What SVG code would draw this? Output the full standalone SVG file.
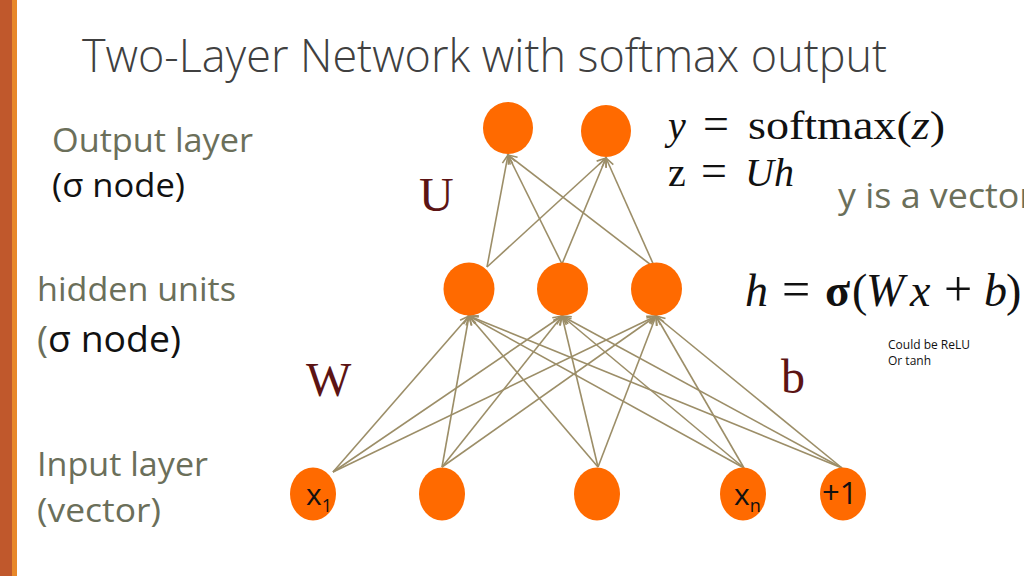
<svg xmlns="http://www.w3.org/2000/svg" width="1024" height="576" viewBox="0 0 1024 576">
<style>
.node{fill:#FF6A00}
.edge{stroke:#9C8E68;stroke-width:1.6;fill:none}
.lbl{font-family:"Open Sans","Liberation Sans",sans-serif;fill:#6B6F5A}
.blk{font-family:"Open Sans","Liberation Sans",sans-serif;fill:#111}
.math{font-family:"Liberation Serif","DejaVu Serif",serif;fill:#111}
.mar{font-family:"Liberation Serif","DejaVu Serif",serif;fill:#5C1414}
</style>
<defs>
<marker id="ah" markerWidth="12" markerHeight="12" refX="10" refY="6" orient="auto" markerUnits="userSpaceOnUse">
<path d="M1,2 L10,6 L1,10" fill="none" stroke="#9C8E68" stroke-width="1.6"/>
</marker>
</defs>
<rect x="0" y="0" width="1024" height="576" fill="#fff"/>
<rect x="0" y="0" width="12" height="576" fill="#C0582C"/>
<rect x="12" y="0" width="5" height="576" fill="#E8882A"/>

<text id="title" x="82" y="72" font-family="Open Sans, Liberation Sans, sans-serif" font-weight="300" font-size="46" fill="#404040" textLength="805" lengthAdjust="spacingAndGlyphs">Two-Layer Network with softmax output</text>

<g id="labels">
<text class="lbl" x="52" y="152" font-size="33" textLength="201" lengthAdjust="spacingAndGlyphs">Output layer</text>
<text class="blk" x="52" y="197" font-size="33" textLength="133" lengthAdjust="spacingAndGlyphs">(σ node)</text>
<text class="lbl" x="37" y="301" font-size="33" textLength="199" lengthAdjust="spacingAndGlyphs">hidden units</text>
<text class="blk" x="37" y="352" font-size="36" textLength="144" lengthAdjust="spacingAndGlyphs"><tspan fill="#6B6F5A">(</tspan>σ node)</text>
<text class="lbl" x="37" y="476" font-size="33" textLength="171" lengthAdjust="spacingAndGlyphs">Input layer</text>
<text class="lbl" x="37" y="522" font-size="33" textLength="124" lengthAdjust="spacingAndGlyphs">(vector)</text>
<text class="mar" x="419" y="211" font-size="48">U</text>
<text class="mar" x="306" y="396" font-size="48">W</text>
<text class="mar" x="781" y="393" font-size="48">b</text>
</g>

<g id="equations">
<text class="math" y="139" font-size="40"><tspan x="668" font-style="italic">y</tspan><tspan x="703" font-size="46">=</tspan></text>
<text class="math" x="748" y="139" font-size="40" textLength="197" lengthAdjust="spacingAndGlyphs">softmax(<tspan font-style="italic">z</tspan>)</text>
<text class="math" y="186" font-size="40"><tspan x="668">z</tspan><tspan x="701" font-size="46">=</tspan><tspan x="745" font-style="italic">Uh</tspan></text>
<text class="lbl" x="838" y="208" font-size="34" textLength="196" lengthAdjust="spacingAndGlyphs">y is a vector</text>
<text class="math" y="306" font-size="46"><tspan x="745" font-style="italic">h</tspan><tspan x="782" font-size="50">=</tspan><tspan x="825" font-weight="bold">σ</tspan><tspan x="852">(</tspan><tspan x="866" font-style="italic">W</tspan><tspan x="910" font-style="italic">x</tspan><tspan x="944" font-size="50">+</tspan><tspan x="984" font-style="italic">b</tspan><tspan x="1006">)</tspan></text>
<text class="blk" x="888" y="349" font-size="12" fill="#222">Could be ReLU</text>
<text class="blk" x="888" y="365" font-size="12" fill="#222">Or tanh</text>
</g>

<g id="connectors">
<line class="edge" x1="333" y1="472" x2="469" y2="316" marker-end="url(#ah)"/>
<line class="edge" x1="333" y1="472" x2="562" y2="316" marker-end="url(#ah)"/>
<line class="edge" x1="333" y1="472" x2="656" y2="316" marker-end="url(#ah)"/>
<line class="edge" x1="442" y1="467" x2="469" y2="316" marker-end="url(#ah)"/>
<line class="edge" x1="442" y1="467" x2="562" y2="316" marker-end="url(#ah)"/>
<line class="edge" x1="442" y1="467" x2="656" y2="316" marker-end="url(#ah)"/>
<line class="edge" x1="598" y1="467" x2="469" y2="316" marker-end="url(#ah)"/>
<line class="edge" x1="598" y1="467" x2="562" y2="316" marker-end="url(#ah)"/>
<line class="edge" x1="598" y1="467" x2="656" y2="316" marker-end="url(#ah)"/>
<line class="edge" x1="744" y1="468" x2="469" y2="316" marker-end="url(#ah)"/>
<line class="edge" x1="744" y1="468" x2="562" y2="316" marker-end="url(#ah)"/>
<line class="edge" x1="744" y1="468" x2="656" y2="316" marker-end="url(#ah)"/>
<line class="edge" x1="842" y1="468" x2="469" y2="316" marker-end="url(#ah)"/>
<line class="edge" x1="842" y1="468" x2="562" y2="316" marker-end="url(#ah)"/>
<line class="edge" x1="842" y1="468" x2="656" y2="316" marker-end="url(#ah)"/>
<line class="edge" x1="487" y1="267" x2="508" y2="155" marker-end="url(#ah)"/>
<line class="edge" x1="487" y1="267" x2="606" y2="158" marker-end="url(#ah)"/>
<line class="edge" x1="562" y1="264" x2="508" y2="155" marker-end="url(#ah)"/>
<line class="edge" x1="562" y1="264" x2="606" y2="158" marker-end="url(#ah)"/>
<line class="edge" x1="655" y1="268" x2="508" y2="155" marker-end="url(#ah)"/>
<line class="edge" x1="655" y1="268" x2="606" y2="158" marker-end="url(#ah)"/>
</g>

<g id="out1"><ellipse class="node" cx="508" cy="128" rx="25" ry="26"/></g>
<g id="out2"><ellipse class="node" cx="606" cy="131" rx="25" ry="26"/></g>
<g id="hid1"><ellipse class="node" cx="469" cy="289" rx="25.5" ry="26.5"/></g>
<g id="hid2"><ellipse class="node" cx="562.5" cy="289" rx="25.5" ry="26.5"/></g>
<g id="hid3"><ellipse class="node" cx="656.5" cy="289" rx="25.5" ry="26.5"/></g>
<g id="in1"><ellipse class="node" cx="313" cy="494" rx="23" ry="26.5"/>
<text class="blk" x="306" y="505" font-size="30">x<tspan font-size="18" dy="7">1</tspan></text></g>
<g id="in2"><ellipse class="node" cx="442" cy="494" rx="23" ry="26.5"/></g>
<g id="in3"><ellipse class="node" cx="597" cy="494" rx="23" ry="26.5"/></g>
<g id="in4"><ellipse class="node" cx="743" cy="494" rx="23" ry="26.5"/>
<text class="blk" x="734" y="505" font-size="30">x<tspan font-size="18" dy="7">n</tspan></text></g>
<g id="in5"><ellipse class="node" cx="843" cy="494" rx="23" ry="26.5"/>
<text class="blk" x="822" y="504" font-size="31">+1</text></g>
</svg>
